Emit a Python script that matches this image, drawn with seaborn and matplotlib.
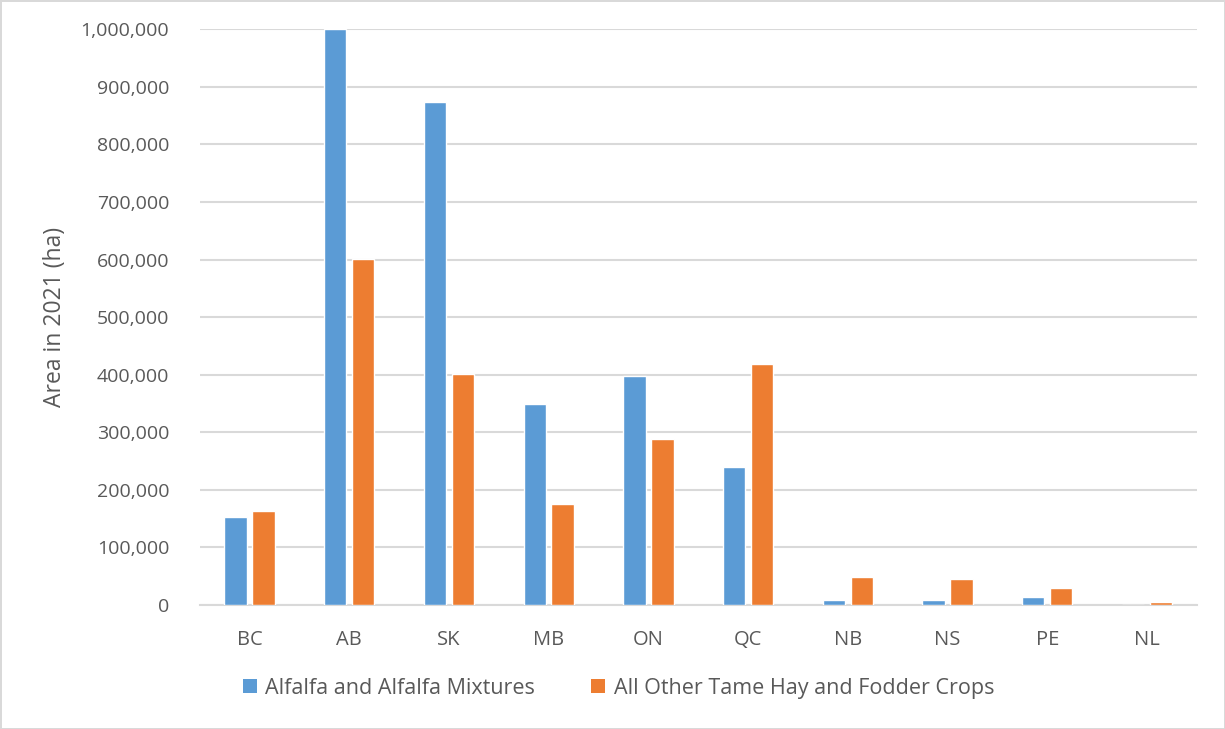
import pandas as pd
import matplotlib.pyplot as plt
import seaborn as sns
from matplotlib.ticker import FuncFormatter
from matplotlib.patches import Patch

# provinces and areas (ha)
provinces = ['BC', 'AB', 'SK', 'MB', 'ON', 'QC', 'NB', 'NS', 'PE', 'NL']
alfalfa = [153000, 1001000, 874000, 350000, 398000, 240000, 8700, 8500, 14500, 300]
other_hay = [164000, 601000, 401000, 176000, 289000, 419000, 48500, 44500, 29000, 4500]
series_names = ['Alfalfa and Alfalfa Mixtures', 'All Other Tame Hay and Fodder Crops']
y_ticks = list(range(0, 1000001, 100000))

colors = ['#5B9BD5', '#ED7D31']
text_color = '#595959'
grid_color = '#D9D9D9'

df = pd.DataFrame({
    'province': provinces * 2,
    'area': alfalfa + other_hay,
    'series': [series_names[0]] * len(provinces) + [series_names[1]] * len(provinces),
})

sns.set_theme(style='white')
plt.rcParams['font.family'] = ['Open Sans', 'DejaVu Sans']

fig = plt.figure(figsize=(12.25, 7.29), dpi=100, edgecolor=grid_color, linewidth=2)
ax = fig.add_axes([0.163, 0.170, 0.814, 0.790])

sns.barplot(data=df, x='province', y='area', hue='series', order=provinces,
            hue_order=series_names, palette=colors, width=0.56, gap=0.2,
            saturation=1, ax=ax, legend=False, zorder=3)

ax.set_ylim(0, 1000000)
ax.set_yticks(y_ticks)
ax.yaxis.set_major_formatter(FuncFormatter(lambda v, p: f'{int(v):,}'))
ax.grid(axis='y', color=grid_color, linewidth=1.5, zorder=0)
ax.set_axisbelow(True)
for side in ['left', 'right', 'top']:
    ax.spines[side].set_visible(False)
ax.spines['bottom'].set_color(grid_color)
ax.spines['bottom'].set_linewidth(1.5)
ax.set_xlim(-0.5, len(provinces) - 0.5)

ax.tick_params(axis='y', length=0, pad=22, labelsize=14, labelcolor=text_color)
ax.tick_params(axis='x', length=0, pad=18, labelsize=14.5, labelcolor=text_color)
ax.set_xlabel('')
ax.set_ylabel('Area in 2021 (ha)', fontsize=16.5, color=text_color, labelpad=10)

handles = [Patch(facecolor=c, edgecolor='none') for c in colors]
leg = fig.legend(handles, series_names, loc='center', bbox_to_anchor=(0.505, 0.056),
                 ncol=2, frameon=False, fontsize=15.5, handlelength=0.65, handleheight=0.65,
                 handletextpad=0.4, columnspacing=2.6)
for t in leg.get_texts():
    t.set_color(text_color)

fig.savefig('out.png', dpi=100)
